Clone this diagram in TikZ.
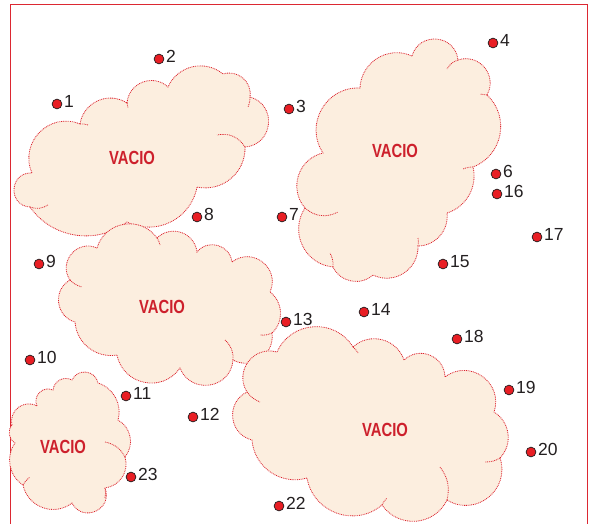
\documentclass[tikz,border=0pt]{standalone}
\usepackage{fontspec}
\setmainfont{Liberation Sans}
\newfontfamily\vfont[FakeStretch=0.78]{Liberation Sans}
\definecolor{cfill}{RGB}{252,238,223}
\definecolor{cline}{RGB}{220,35,45}
\definecolor{dotred}{RGB}{232,30,36}
\definecolor{txtgray}{RGB}{35,31,32}
\definecolor{vred}{RGB}{205,32,44}
\definecolor{framered}{RGB}{220,40,50}
\tikzset{
  lb/.code={\pgfmathsetmacro\lbL{1/(1.1745*cos(#1/2)^2)}\edef\lbT{\noexpand\tikzset{bend left=#1,looseness=\lbL}}\lbT},
  cloudsh/.style={fill=cfill, draw=cline, line width=0.8pt, dash pattern=on 0.9pt off 0.9pt},
  hk/.style={draw=cline, line width=0.8pt, dash pattern=on 0.9pt off 0.9pt},
  pt/.style={circle, fill=dotred, draw=txtgray, line width=0.7pt, minimum size=9.8pt, inner sep=0pt},
  num/.style={anchor=base west, inner sep=0pt, text=txtgray, font=\fontsize{17.5}{19}\selectfont},
  vlab/.style={text=vred, inner sep=0pt, font=\vfont\bfseries\fontsize{19}{21}\selectfont}
}
\begin{document}
\begin{tikzpicture}[x=1pt,y=-1pt]
\useasboundingbox (0,0) rectangle (589,523);
\draw[framered, line width=0.9pt] (10.5,530) -- (10.5,4.5) -- (587.5,4.5) -- (587.5,530);
% cloud 1
\path[cloudsh] (80,124) to[lb=57] (127,103) to[lb=64] (168,87) to[lb=53] (223,74) to[lb=58] (250,97) to[lb=80] (245,147) to[lb=52] (197,187) to[lb=53] (127,222) to[lb=46] (30,207) to[lb=90] (32,173) to[lb=68] (80,124) -- cycle;
\path[hk] (245,147) to[bend right=35] (217,135);
\path[hk] (30,207) to[bend right=25] (48,205);
\path[hk] (250,97) to[bend left=10] (248,107);
\path[hk] (80,124) to[bend left=10] (88,125);
\path[hk] (127,103) to[bend left=10] (128,108);
% cloud 2
\path[cloudsh] (412,56) to[lb=79] (458,60) to[lb=69] (487,95) to[lb=58] (473,167) to[lb=43] (447,213) to[lb=48] (418,246) to[lb=59] (373,275) to[lb=53] (333,267) to[lb=59] (305,208) to[lb=59] (323,153) to[lb=63] (360,88) to[lb=56] (412,56) -- cycle;
\path[hk] (458,60) to[bend right=20] (447,69);
\path[hk] (473,167) to[bend right=10] (463,169);
\path[hk] (305,208) to[bend right=35] (338,212);
\path[hk] (333,267) to[bend right=15] (330,253);
\path[hk] (418,246) to[bend right=10] (418,238);
\path[hk] (487,95) to[bend right=10] (480,94);
% cloud 3
\path[cloudsh] (97,248) to[lb=64] (157,238) to[lb=64] (197,252) to[lb=67] (232,262) to[lb=76] (270,292) to[lb=50] (272,333) to[lb=63] (233,360) to[lb=77] (180,368) to[lb=67] (117,355) to[lb=48] (75,322) to[lb=67] (70,280) to[lb=74] (97,248) -- cycle;
\path[hk] (272,333) to[bend left=15] (260,335);
\path[hk] (233,360) to[bend right=25] (225,340);
\path[hk] (70,280) to[bend right=15] (82,287);
\path[hk] (157,238) to[bend left=10] (160,245);
% cloud 4
\path[cloudsh] (277,352) to[lb=62] (353,347) to[lb=57] (404,360) to[lb=66] (445,377) to[lb=73] (494,412) to[lb=51] (500,458) to[lb=70] (447,500) to[lb=60] (382,505) to[lb=60] (307,478) to[lb=51] (252,440) to[lb=70] (247,392) to[lb=69] (277,352) -- cycle;
\path[hk] (500,458) to[bend left=15] (485,462);
\path[hk] (447,500) to[bend right=25] (440,467);
\path[hk] (247,392) to[bend right=15] (260,402);
\path[hk] (353,347) to[bend left=10] (358,353);
\path[hk] (382,505) to[bend left=10] (387,498);
% cloud 5
\path[cloudsh] (12,425) to[lb=66] (37,406) to[lb=69] (53,390) to[lb=56] (72,380) to[lb=72] (98,383) to[lb=44] (118,420) to[lb=50] (125,457) to[lb=50] (105,488) to[lb=87] (72,503) to[lb=58] (23,485) to[lb=46] (15,443) to[lb=50] (12,425) -- cycle;
\path[hk] (125,457) to[bend right=25] (105,442);
\path[hk] (23,485) to[bend left=10] (30,477);
\path[hk] (105,488) to[bend left=10] (105,498);
% labels
\node[vlab] (v1) at (132,158) {VACIO};
\node[vlab] (v2) at (395,151) {VACIO};
\node[vlab] (v3) at (162,307) {VACIO};
\node[vlab] (v4) at (385,430) {VACIO};
\node[vlab] (v5) at (63,447) {VACIO};
% points
\foreach \n/\x/\y in {1/57/104, 2/159/59, 3/289/109, 4/493/43, 6/496/174, 7/282/217, 8/197/217, 9/39/264, 10/30/360, 11/126/396, 12/193/417, 13/286/322, 14/364/312, 15/443/264, 16/497/194, 17/537/237, 18/457/339, 19/509/390, 20/531/452, 22/279/506, 23/131/477}{
  \node[pt] (p\n) at (\x,\y) {};
  \node[num] (l\n) at (\x+7,\y+3.8) {\n};
}
\end{tikzpicture}
\end{document}
